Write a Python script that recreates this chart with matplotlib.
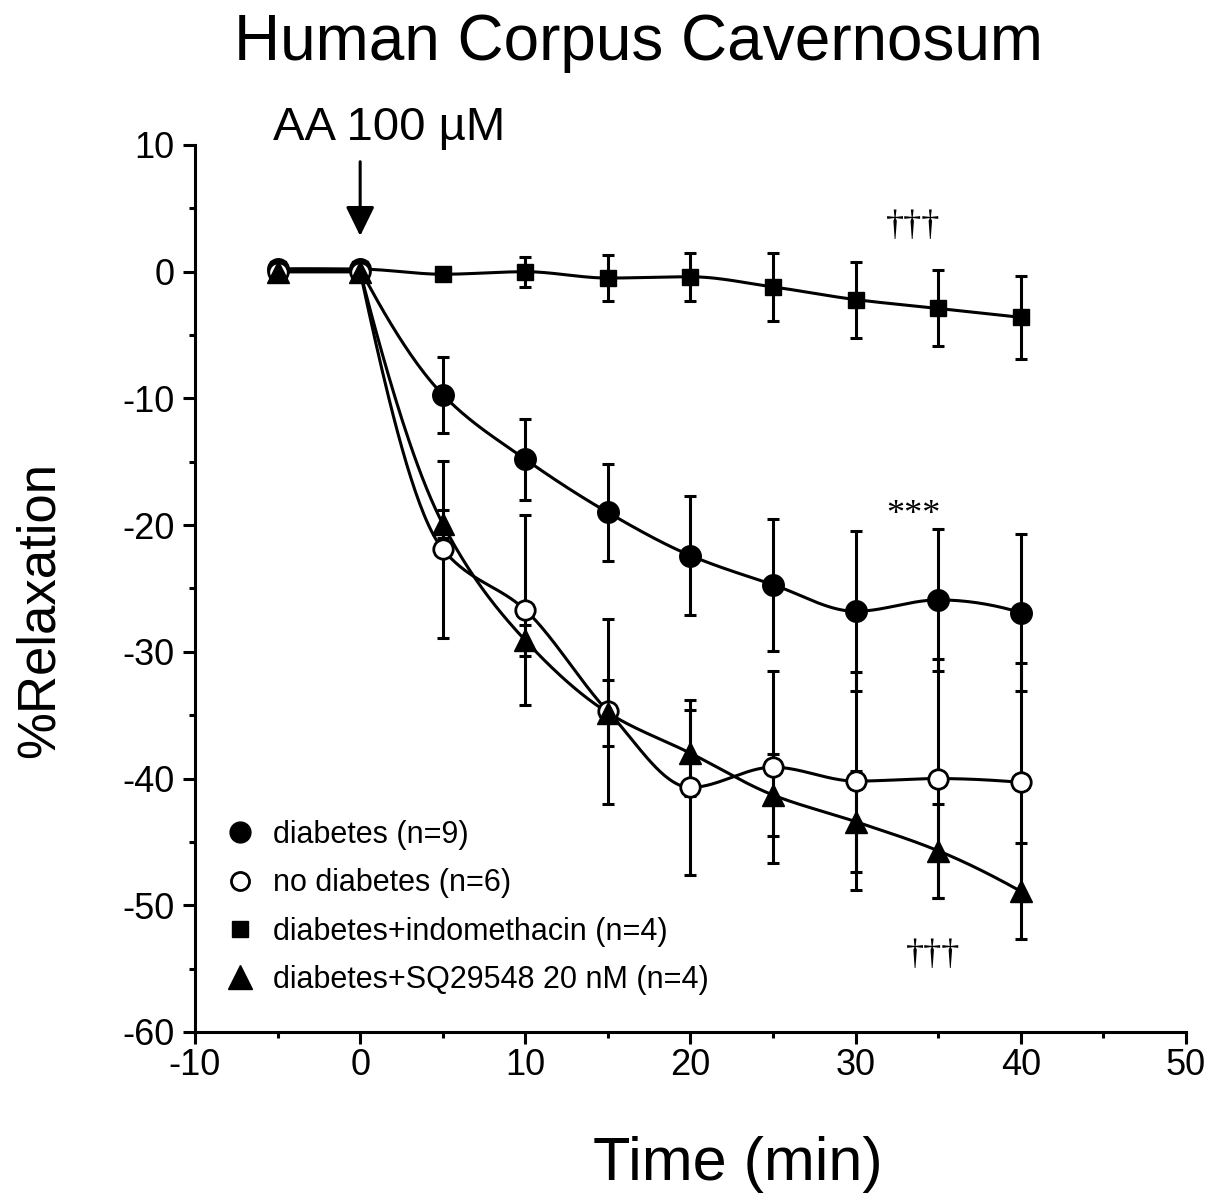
import numpy as np
import matplotlib
matplotlib.use("Agg")
import matplotlib.pyplot as plt
from matplotlib.lines import Line2D

plt.rcParams['font.family'] = ['Liberation Sans', 'DejaVu Sans']
plt.rcParams['axes.unicode_minus'] = False

# time points (min)
time = [-5, 0, 5, 10, 15, 20, 25, 30, 35, 40]

# % relaxation (mean) and SEM
diab = [0.2, 0.2, -9.7, -14.8, -19.0, -22.4, -24.7, -26.8, -25.9, -26.9]
diab_err = [0, 0, 3.0, 3.2, 3.8, 4.7, 5.2, 6.3, 5.6, 6.2]

nodiab = [0.0, 0.0, -21.9, -26.7, -34.7, -40.7, -39.1, -40.2, -40.0, -40.3]
nodiab_err = [0, 0, 7.0, 7.5, 7.3, 6.9, 7.6, 8.6, 9.4, 9.4]

indo = [0.2, 0.2, -0.2, 0.0, -0.5, -0.4, -1.2, -2.2, -2.9, -3.6]
indo_err = [0, 0, 0.3, 1.2, 1.8, 1.9, 2.7, 3.0, 3.0, 3.3]

sq = [0.0, 0.0, -19.9, -29.1, -34.8, -38.0, -41.3, -43.4, -45.7, -48.9]
sq_err = [0, 0, 1.1, 1.2, 2.6, 3.4, 3.2, 4.0, 3.7, 3.8]

labels = ['diabetes (n=9)', 'no diabetes (n=6)',
          'diabetes+indomethacin (n=4)', 'diabetes+SQ29548 20 nM (n=4)']


def pchip(x, y, xs):
    # monotone cubic through the points, just for drawing the smooth line
    x = np.asarray(x, float)
    y = np.asarray(y, float)
    h = np.diff(x)
    d = np.diff(y) / h
    n = len(x)
    m = np.zeros(n)
    for k in range(1, n - 1):
        if d[k - 1] * d[k] > 0:
            w1 = 2 * h[k] + h[k - 1]
            w2 = h[k] + 2 * h[k - 1]
            m[k] = (w1 + w2) / (w1 / d[k - 1] + w2 / d[k])
    m[0] = ((2 * h[0] + h[1]) * d[0] - h[0] * d[1]) / (h[0] + h[1])
    m[-1] = ((2 * h[-1] + h[-2]) * d[-1] - h[-1] * d[-2]) / (h[-1] + h[-2])
    i = np.clip(np.searchsorted(x, xs) - 1, 0, n - 2)
    t = (xs - x[i]) / h[i]
    h00 = 2 * t**3 - 3 * t**2 + 1
    h10 = t**3 - 2 * t**2 + t
    h01 = -2 * t**3 + 3 * t**2
    h11 = t**3 - t**2
    return h00 * y[i] + h10 * h[i] * m[i] + h01 * y[i + 1] + h11 * h[i] * m[i + 1]


def smooth(x, y, start):
    xs = np.linspace(x[start], x[-1], 300)
    ys = pchip(x[start:], y[start:], xs)
    return np.concatenate([x[:start], xs]), np.concatenate([y[:start], ys])


fig = plt.figure(figsize=(12.11, 12.04), dpi=100)
ax = fig.add_axes([0.16102, 0.14286, 0.81833, 0.73671])

series = [
    (diab, diab_err, dict(marker='o', ms=15.5, mfc='k', mec='k'), 1),
    (indo, indo_err, dict(marker='s', ms=11.5, mfc='k', mec='k'), 0),
    (nodiab, nodiab_err, dict(marker='o', ms=14, mfc='white', mec='k', mew=2), 1),
    (sq, sq_err, dict(marker='^', ms=16, mfc='k', mec='k'), 1),
]

for y, e, mk, start in series:
    ax.errorbar(time, y, yerr=e, fmt='none', ecolor='k', elinewidth=2.2,
                capsize=4, capthick=2.2, zorder=2)
for y, e, mk, start in series:
    cx, cy = smooth(np.array(time, float), np.array(y, float), start)
    ax.plot(cx, cy, color='k', lw=2.2, zorder=3)
for y, e, mk, start in series:
    ax.plot(time, y, ls='none', zorder=4, **mk)

ax.set_xlim(-10, 50)
ax.set_ylim(-60, 10)
ax.set_xticks(np.arange(-10, 51, 10))
ax.set_yticks(np.arange(-60, 11, 10))
ax.set_xticks(np.arange(-5, 50, 10), minor=True)
ax.set_yticks(np.arange(-55, 10, 10), minor=True)
ax.spines['top'].set_visible(False)
ax.spines['right'].set_visible(False)
for s in ['left', 'bottom']:
    ax.spines[s].set_linewidth(2.2)
ax.tick_params(which='major', length=8.5, width=2.2, labelsize=26, pad=3)
ax.tick_params(axis='y', which='major', pad=6)
ax.tick_params(which='minor', length=4.5, width=2.2)

# legend
handles = [
    Line2D([], [], ls='none', marker='o', ms=15, mfc='k', mec='k'),
    Line2D([], [], ls='none', marker='o', ms=13, mfc='white', mec='k', mew=2),
    Line2D([], [], ls='none', marker='s', ms=11.5, mfc='k', mec='k'),
    Line2D([], [], ls='none', marker='^', ms=17, mfc='k', mec='k'),
]
ax.legend(handles, labels, loc='upper left', bbox_to_anchor=(0.031, 0.239),
          frameon=False, fontsize=22, handlelength=0.95, handletextpad=0.6,
          labelspacing=0.6, borderpad=0, borderaxespad=0)

# AA arrow
ax.annotate('', xy=(0, 2.6), xytext=(0, 8.9),
            arrowprops=dict(arrowstyle='-|>,head_length=0.45,head_width=0.22',
                            mutation_scale=40, lw=2.2, color='k'),
            annotation_clip=False)
ax.text(1.75, 10.4, 'AA 100 µM', ha='center', va='baseline', fontsize=34,
        clip_on=False)

# significance marks
serif = ['Liberation Serif', 'DejaVu Serif']
ax.text(33.5, 2.9, '†††', ha='center', va='baseline', fontsize=26, family=serif)
ax.text(33.5, -19.9, '***', ha='center', va='baseline', fontsize=26, family=serif)
ax.text(34.7, -54.6, '†††', ha='center', va='baseline', fontsize=26, family=serif)

fig.text(0.527, 0.950, 'Human Corpus Cavernosum', ha='center', va='baseline',
         fontsize=46)
fig.text(0.609, 0.020, 'Time (min)', ha='center', va='baseline', fontsize=44)
fig.text(0.033, 0.4934, '%Relaxation', ha='center', va='center', rotation=90,
         fontsize=38)

fig.savefig('out.png', dpi=100)
